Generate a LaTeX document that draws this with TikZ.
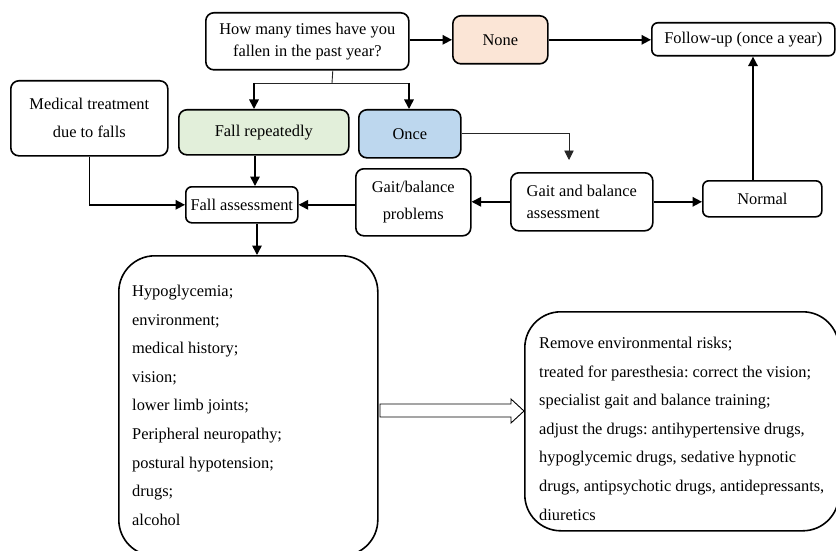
\documentclass[tikz,border=0pt]{standalone}
\usepackage{fontspec}
\setmainfont{Liberation Serif}
\usetikzlibrary{arrows.meta,calc}
\definecolor{peach}{HTML}{FBE5D6}
\definecolor{sage}{HTML}{E2EFDA}
\definecolor{sky}{HTML}{BDD7EE}
\frenchspacing
\begin{document}
\begin{tikzpicture}[x=1pt,y=-1pt,
  box/.style={draw, line width=1.6pt, rounded corners=8pt, anchor=north west,
    inner sep=0pt, align=center, font=\fontsize{16.4}{22}\selectfont},
  arr/.style={line width=1.6pt, -{Triangle[length=9.5pt,width=9.5pt]}},
  thinline/.style={line width=0.9pt, draw=black!85},
  bigbox/.style={draw, line width=1.6pt, rounded corners=36pt, anchor=north west, inner sep=0pt},
  list/.style={anchor=north west, align=left, inner sep=0pt, font=\fontsize{16.4}{28.6}\selectfont}]
\useasboundingbox (0,0) rectangle (836,551);
\begin{scope}
\clip (0,0) rectangle (836,551);

% boxes of the flow chart
\node[box, minimum width=203pt, minimum height=57pt] (q) at (205,12)
  {How many times have you\\fallen in the past year?};
\node[box, fill=peach, minimum width=95pt, minimum height=48pt] (none) at (452,15) {None};
\node[box, rounded corners=6pt, minimum width=183pt, minimum height=33pt] (fu) at (651,22)
  {Follow-up (once a year)};
\node[box, font=\fontsize{16.4}{28}\selectfont, minimum width=157pt, minimum height=75pt] (med) at (10,80)
  {Medical treatment\\due to falls};
\node[box, fill=sage, minimum width=170pt, minimum height=45pt] (rep) at (178,109) {Fall repeatedly};
\node[box, fill=sky, minimum width=102pt, minimum height=48pt] (once) at (358,109) {Once};
\node[box, rounded corners=6pt, minimum width=112pt, minimum height=36pt] (fa) at (185,186) {Fall assessment};
\node[box, font=\fontsize{16.4}{27}\selectfont, minimum width=115pt, minimum height=67pt] (gb) at (355,168)
  {Gait/balance\\problems};
\node[box, align=left, minimum width=142pt, minimum height=58pt] (ga) at (510,172)
  {Gait and balance\\assessment};
\node[box, rounded corners=6pt, minimum width=119pt, minimum height=36pt] (norm) at (702,180) {Normal};

% large lists
\node[bigbox, minimum width=259pt, minimum height=300pt] (risk) at (118,255) {};
\node[list] (risktext) at (132,285) {Hypoglycemia;\\environment;\\medical history;\\vision;\\lower limb joints;\\Peripheral neuropathy;\\postural hypotension;\\drugs;\\alcohol};
\node[bigbox, minimum width=314pt, minimum height=219pt] (act) at (524,311) {};
\node[list] (acttext) at (539,337) {Remove environmental risks;\\treated for paresthesia: correct the vision;\\specialist gait and balance training;\\adjust the drugs: antihypertensive drugs,\\hypoglycemic drugs, sedative hypnotic\\drugs, antipsychotic drugs, antidepressants,\\diuretics};

% helper coordinates for off-centre connectors
\coordinate (split) at (332,83);
\coordinate (sl) at (254,83);
\coordinate (sr) at (409,83);
\coordinate (c255) at (255,0);
\coordinate (c257) at (257,0);
\coordinate (c753) at (753,0);
\coordinate (gaitIn) at (569,160);

% connectors
\draw[arr] (q.east |- none.west) -- (none.west);
\draw[arr] (none.east) -- (none.east -| fu.west);
\draw[thinline] ([xshift=25.5pt]q.south) -- (split);
\draw[thinline] (sl) -- (sr);
\draw[arr] (sl) -- (sl |- rep.north);
\draw[arr] (sr) -- (sr |- once.north);
\draw[arr] (rep.south -| c255) -- (fa.north -| c255);
\draw[arr] (med.south) |- (fa.west);
\draw[arr] (gb.west |- fa.east) -- (fa.east);
\draw[thinline, -{Triangle[length=9.5pt,width=9.5pt]}] (once.east) -| (gaitIn);
\draw[arr] (ga.west) -- (ga.west -| gb.east);
\draw[arr] (ga.east) -- (ga.east -| norm.west);
\draw[arr] (norm.north -| c753) -- (fu.south -| c753);
\draw[arr] (fa.south -| c257) -- (risk.north -| c257);

% hollow block arrow between the two lists
\draw[line width=0.9pt, fill=white] (380,404) -- (511,404) -- (511,399) -- (524,411)
  -- (511,423) -- (511,417) -- (380,417) -- cycle;
\end{scope}
\end{tikzpicture}
\end{document}
